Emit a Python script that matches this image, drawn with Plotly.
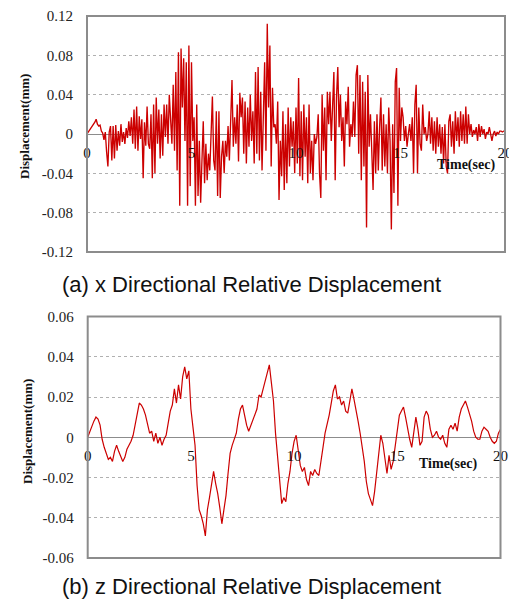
import numpy as np
import plotly.graph_objects as go

# ---------------- data ----------------
# (a) x-directional relative displacement (mm), sampled every 0.0625 s
dt_x = 0.0625
x_disp_00_04 = [0.000, 0.002, 0.004, 0.006, 0.007, 0.009, 0.012, 0.015, 0.010, 0.008,
                0.009, 0.003, 0.001, -0.006, 0.002, -0.018, -0.033, 0.002, 0.008, -0.027,
                0.008, -0.025, 0.009, -0.017, 0.003, -0.012, 0.010, -0.008, 0.002, -0.010,
                0.006, -0.004, 0.013, -0.002, 0.017, -0.010, 0.025, -0.015, 0.028, -0.017,
                0.018, -0.005, 0.015, -0.045, 0.012, -0.012, 0.028, -0.010, -0.015, 0.020,
                -0.045, 0.030, -0.040, 0.037, -0.010, 0.025, -0.025, 0.020, -0.022, 0.030,
                -0.003, 0.030, -0.010, 0.040]
x_disp_04_08 = [0.010, -0.010, 0.050, -0.017, 0.063, -0.037, 0.083, -0.073, 0.087, 0.027,
                0.077, -0.007, 0.073, -0.073, 0.090, -0.053, 0.073, -0.007, 0.017, -0.073,
                0.030, -0.063, -0.007, -0.070, -0.027, 0.013, -0.050, -0.010, -0.047, -0.020,
                -0.037, 0.010, 0.038, -0.027, -0.037, 0.023, -0.063, 0.023, -0.065, -0.023,
                -0.007, -0.040, -0.007, -0.023, 0.008, -0.027, 0.017, 0.055, -0.013, 0.017,
                -0.010, 0.030, -0.028, 0.042, 0.017, 0.037, -0.020, 0.033, -0.030, 0.027,
                -0.013, 0.040, -0.007, 0.023]
x_disp_08_12 = [-0.030, 0.063, -0.020, 0.068, -0.027, 0.043, -0.037, 0.030, 0.073, -0.017,
                0.112, 0.027, 0.090, -0.033, 0.047, 0.007, 0.010, -0.010, 0.033, -0.067,
                -0.007, -0.043, 0.023, -0.057, 0.010, -0.050, 0.027, -0.033, 0.017, -0.013,
                0.013, -0.040, 0.027, -0.030, 0.057, -0.043, 0.023, -0.047, 0.030, -0.023,
                0.017, -0.050, 0.030, -0.040, -0.007, -0.047, 0.000, -0.010, -0.003, 0.020,
                -0.040, -0.065, 0.040, -0.017, 0.027, -0.047, 0.043, 0.010, 0.043, -0.007,
                0.023, 0.063, -0.047, 0.037]
x_disp_12_16 = [0.068, 0.007, 0.040, -0.007, 0.017, -0.033, 0.033, 0.010, 0.048, -0.013,
                0.010, -0.003, 0.033, -0.003, 0.060, 0.070, -0.020, 0.060, -0.047, 0.053,
                -0.033, 0.043, -0.095, 0.060, -0.013, 0.020, -0.017, -0.057, 0.013, -0.040,
                0.020, -0.037, 0.007, 0.037, -0.037, 0.020, -0.033, 0.010, -0.040, 0.027,
                -0.007, -0.097, 0.010, -0.060, 0.053, 0.067, -0.073, 0.047, -0.007, 0.027,
                0.017, -0.007, 0.008, -0.013, 0.000, 0.010, -0.007, 0.017, -0.040, 0.030,
                0.050, -0.040, 0.027, -0.010]
x_disp_16_20 = [-0.017, 0.030, 0.000, 0.007, -0.007, 0.000, 0.023, -0.010, 0.017, -0.017,
                0.013, -0.020, 0.017, -0.013, 0.010, -0.020, 0.007, -0.030, 0.010, -0.033,
                -0.040, 0.013, 0.020, -0.013, 0.013, -0.020, 0.023, -0.007, 0.017, -0.013,
                0.023, -0.007, 0.020, -0.010, 0.028, -0.010, 0.020, 0.000, 0.010, -0.003,
                0.004, 0.000, 0.007, -0.007, 0.010, -0.003, 0.008, 0.000, 0.005, -0.005,
                0.002, 0.000, 0.007, -0.002, -0.007, 0.000, 0.003, -0.002, 0.002, 0.000,
                0.003, 0.003, 0.002, 0.003, 0.003]

# (b) z-directional relative displacement (mm), sampled every 0.1 s
dt_z = 0.1
z_disp_00_05 = [0.000, 0.003, 0.006, 0.008, 0.010, 0.009, 0.006, -0.001, -0.005, -0.008,
                -0.011, -0.010, -0.012, -0.007, -0.004, -0.007, -0.010, -0.012, -0.010, -0.006,
                -0.004, -0.002, 0.001, 0.006, 0.012, 0.017, 0.016, 0.014, 0.011, 0.006,
                0.002, 0.003, -0.002, 0.002, -0.003, 0.000, -0.004, -0.001, 0.001, 0.007,
                0.013, 0.016, 0.024, 0.017, 0.026, 0.019, 0.030, 0.035, 0.029, 0.033]
z_disp_05_10 = [0.014, 0.005, -0.004, -0.024, -0.036, -0.039, -0.043, -0.049, -0.036, -0.030,
                -0.023, -0.017, -0.023, -0.028, -0.035, -0.043, -0.036, -0.029, -0.018, -0.008,
                -0.004, -0.001, 0.002, 0.009, 0.014, 0.016, 0.010, 0.006, 0.003, 0.006,
                0.009, 0.012, 0.014, 0.021, 0.020, 0.024, 0.028, 0.031, 0.036, 0.027,
                0.018, 0.002, -0.010, -0.025, -0.033, -0.030, -0.032, -0.023, -0.017, -0.008]
z_disp_10_15 = [-0.002, 0.001, -0.008, -0.014, -0.017, -0.015, -0.021, -0.024, -0.017, -0.019,
                -0.016, -0.018, -0.019, -0.013, -0.005, 0.002, 0.006, 0.011, 0.017, 0.023,
                0.026, 0.019, 0.020, 0.016, 0.018, 0.013, 0.012, 0.019, 0.024, 0.019,
                0.014, 0.008, 0.002, -0.004, -0.012, -0.022, -0.028, -0.031, -0.034, -0.027,
                -0.018, -0.009, 0.001, -0.003, -0.010, -0.018, -0.009, -0.016, -0.012, -0.004]
z_disp_15_20 = [0.003, 0.011, 0.013, 0.015, 0.010, 0.004, -0.001, -0.005, 0.002, 0.010,
                0.004, -0.004, -0.002, 0.010, 0.013, 0.011, 0.004, 0.000, 0.001, 0.003,
                0.000, -0.001, 0.001, -0.003, -0.005, 0.004, 0.006, 0.004, 0.007, 0.003,
                0.010, 0.014, 0.016, 0.018, 0.015, 0.012, 0.008, 0.003, 0.000, -0.001,
                -0.001, 0.003, 0.005, 0.004, 0.003, 0.000, -0.002, -0.003, -0.002, 0.002,
                0.004]

x_ticks = [0, 5, 10, 15, 20]
y_ticks_a = [-0.12, -0.08, -0.04, 0, 0.04, 0.08, 0.12]
y_ticks_b = [-0.06, -0.04, -0.02, 0, 0.02, 0.04, 0.06]
caption_a = "(a) x Directional Relative Displacement"
caption_b = "(b) z Directional Relative Displacement"
y_title = "Displacement(mm)"
x_title = "Time(sec)"

# ---------------- build ----------------
x_disp = x_disp_00_04 + x_disp_04_08 + x_disp_08_12 + x_disp_12_16 + x_disp_16_20
z_disp = z_disp_00_05 + z_disp_05_10 + z_disp_10_15 + z_disp_15_20
t_x = np.arange(len(x_disp)) * dt_x
t_z = np.arange(len(z_disp)) * dt_z

# page has an 8px body margin: figure starts at (8, 8) and reaches the window edge
OFF = 8
W, H = 517 - OFF, 600 - OFF
def px(x):
    return (x - OFF) / W
def py(y):
    return 1 - (y - OFF) / H

dom_xa = [px(87), px(505)]
dom_ya = [py(252), py(16)]
dom_xb = [px(87.7), px(500.5)]
dom_yb = [py(558), py(316.5)]

LINE = "#CC0000"
SERIF = "Liberation Serif, Times New Roman, serif"
SANS = "Liberation Sans, Arial, sans-serif"

def fmt(v):
    return "0" if v == 0 else f"{v:.2f}"

fig = go.Figure()
fig.add_trace(go.Scatter(x=t_x, y=x_disp, mode="lines", xaxis="x", yaxis="y",
                         line=dict(color=LINE, width=1.35), showlegend=False))
fig.add_trace(go.Scatter(x=t_z, y=z_disp, mode="lines", xaxis="x2", yaxis="y2",
                         line=dict(color=LINE, width=1.2), showlegend=False))

common_x = dict(range=[0, 20], tickvals=x_ticks, ticktext=[str(v) for v in x_ticks],
                showgrid=False, zeroline=False, showline=False, automargin=False,
                ticks="outside", ticklen=5, tickcolor="rgba(0,0,0,0)",
                ticklabeloverflow="allow",
                tickfont=dict(family=SERIF, size=15, color="#111"), anchor="free")
common_y = dict(showgrid=True, gridcolor="#b0b0b0", griddash="dot", gridwidth=1,
                zeroline=True, zerolinecolor="#8c8c8c", zerolinewidth=1.3,
                showline=False, automargin=False, ticks="outside", ticklen=10,
                tickcolor="rgba(0,0,0,0)", ticklabeloverflow="allow",
                tickfont=dict(family=SERIF, size=15, color="#222"))

fig.update_layout(
    template="none",
    width=W, height=H, margin=dict(l=0, r=0, t=0, b=0, pad=0), autosize=False,
    paper_bgcolor="white", plot_bgcolor="white",
    xaxis=dict(domain=dom_xa, position=(dom_ya[0] + dom_ya[1]) / 2, **common_x),
    yaxis=dict(domain=dom_ya, anchor="x", range=[-0.12, 0.12], tickvals=y_ticks_a,
               ticktext=[fmt(v) for v in y_ticks_a], **common_y),
    xaxis2=dict(domain=dom_xb, position=(dom_yb[0] + dom_yb[1]) / 2, **common_x),
    yaxis2=dict(domain=dom_yb, anchor="x2", range=[-0.06, 0.06], tickvals=y_ticks_b,
                ticktext=[fmt(v) for v in y_ticks_b], **common_y),
)

# plot frames
for xr, yr in (("x domain", "y domain"), ("x2 domain", "y2 domain")):
    fig.add_shape(type="rect", xref=xr, yref=yr, x0=0, x1=1, y0=0, y1=1,
                  line=dict(color="#8c8c8c", width=2), fillcolor="rgba(0,0,0,0)", layer="above")

def note(x, y, text, size, family, angle=0):
    return dict(x=px(x), y=py(y), xref="paper", yref="paper", text=text,
                xanchor="center", yanchor="middle", textangle=angle, showarrow=False,
                font=dict(family=family, size=size, color="#111"))

ann = [
    note(25, 127, f"<b>{y_title}</b>", 13, SERIF, -90),
    note(27, 432, f"<b>{y_title}</b>", 13, SERIF, -90),
    note(466, 165, f"<b>{x_title}</b>", 14, SERIF),
    note(448, 464, f"<b>{x_title}</b>", 14, SERIF),
    note(251, 284, caption_a, 22, SANS),
    note(251, 586, caption_b, 22, SANS),
]
fig.update_layout(annotations=ann)

fig.write_html("out.html")
